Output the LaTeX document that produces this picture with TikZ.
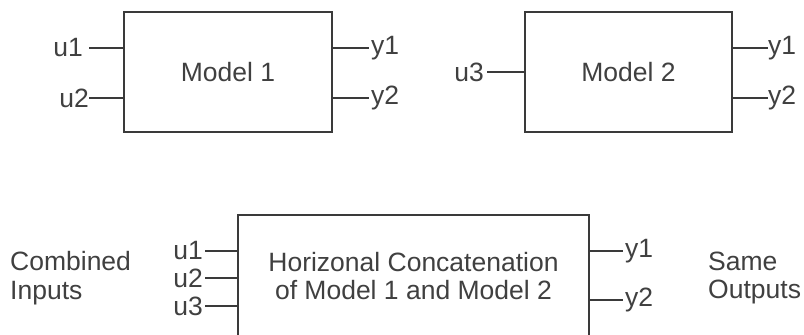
\documentclass[tikz,border=0pt]{standalone}
\usepackage{fontspec}
\setmainfont{Liberation Sans}
\definecolor{ink}{HTML}{3A3A3A}
\definecolor{txt}{HTML}{404040}
\begin{document}
\begin{tikzpicture}[x=1pt,y=-1pt,
  blk/.style={draw=ink,line width=2pt,fill=white,inner sep=0pt,align=center,
    text=txt,font=\fontsize{26.5}{28.5}\selectfont},
  lbl/.style={inner sep=0pt,text=txt,font=\fontsize{26.5}{28.5}\selectfont},
  lblw/.style={lbl,anchor=east},
  lble/.style={lbl,anchor=west},
  side/.style={lbl,align=left,anchor=west},
  wire/.style={draw=ink,line width=2pt}]
\clip (0,0) rectangle (804,335);
\fill[white] (0,0) rectangle (804,335);
% Model 1
\node[blk,minimum width=208pt,minimum height=120pt] (m1) at (228,72) {Model 1};
\node[lblw] (m1u1) at (83,48) {u1};
\node[lblw] (m1u2) at (89,98) {u2};
\node[lble] (m1y1) at (371,48) {y1};
\node[lble] (m1y2) at (371,98) {y2};
\draw[wire] (m1.west|-m1u1) -- ([xshift=6pt]m1u1.east);
\draw[wire] (m1.west|-m1u2) -- (m1u2.east);
\draw[wire] (m1.east|-m1y1) -- ([xshift=-2pt]m1y1.west);
\draw[wire] (m1.east|-m1y2) -- ([xshift=-2pt]m1y2.west);
% Model 2
\node[blk,minimum width=207pt,minimum height=120pt] (m2) at (628.5,72) {Model 2};
\node[lblw] (m2u3) at (484,72) {u3};
\node[lble] (m2y1) at (768,48) {y1};
\node[lble] (m2y2) at (768,98) {y2};
\draw[wire] (m2.west|-m2u3) -- ([xshift=3pt]m2u3.east);
\draw[wire] (m2.east|-m2y1) -- (m2y1.west);
\draw[wire] (m2.east|-m2y2) -- (m2y2.west);
% Concatenation
\node[blk,minimum width=351pt,minimum height=122pt] (hc) at (413.5,276)
  {Horizonal Concatenation\\of Model 1 and Model 2};
\node[lblw] (cu1) at (203,251) {u1};
\node[lblw] (cu2) at (203,278) {u2};
\node[lblw] (cu3) at (203,306) {u3};
\node[lble] (cy1) at (625,251) {y1};
\node[lble] (cy2) at (625,300) {y2};
\draw[wire] (hc.west|-cu1) -- ([xshift=2pt]cu1.east);
\draw[wire] (hc.west|-cu2) -- ([xshift=2pt]cu2.east);
\draw[wire] (hc.west|-cu3) -- ([xshift=2pt]cu3.east);
\draw[wire] (hc.east|-cy1) -- ([xshift=-2pt]cy1.west);
\draw[wire] (hc.east|-cy2) -- ([xshift=-2pt]cy2.west);
\node[side] (ci) at (10,278) {Combined\\Inputs};
\node[side] (so) at (708,278) {Same\\Outputs};
\end{tikzpicture}
\end{document}
